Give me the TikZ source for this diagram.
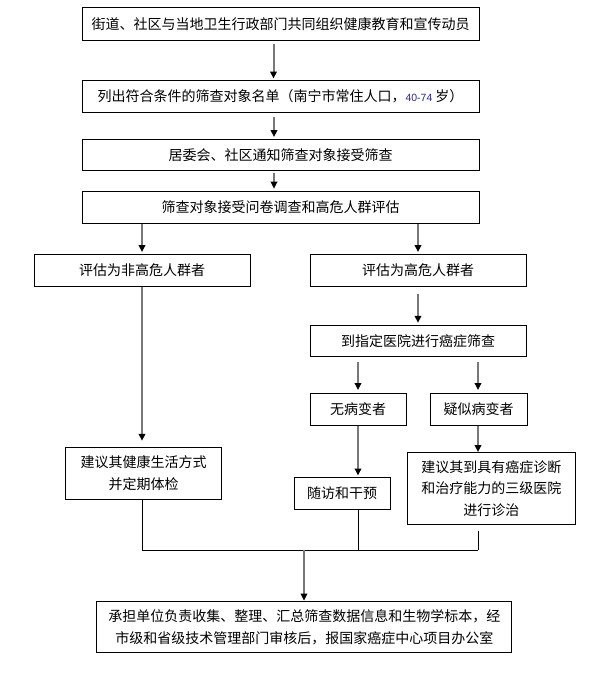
\documentclass[tikz,border=0pt]{standalone}
\usepackage{fontspec}
\usetikzlibrary{arrows.meta}
\newfontfamily\cjk{Noto Sans CJK SC}
\newfontfamily\lat{Liberation Sans}
\definecolor{lgray}{RGB}{120,120,120}
\definecolor{numblue}{RGB}{40,40,150}
\begin{document}
\begin{tikzpicture}[x=1pt,y=-1pt,
  box/.style={draw=black,line width=1pt,inner sep=0pt,align=center,font=\cjk\fontsize{14}{21.5}\selectfont},
  arr/.style={draw=lgray,line width=2pt,-{Triangle[width=6.5pt,length=7pt,color=black]}},
  plain/.style={draw=black,line width=1pt}]
\useasboundingbox[fill=white] (0,0) rectangle (599,682);

\node[box,minimum width=397pt,minimum height=32.7pt] (b1) at (280.5,23.7) {街道、社区与当地卫生行政部门共同组织健康教育和宣传动员};
\node[box,minimum width=397pt,minimum height=32.3pt] (b2) at (280.5,96.2) {列出符合条件的筛查对象名单（南宁市常住人口，{\lat\fontsize{10.5}{12}\selectfont\color{numblue}40-74} 岁）};
\node[box,minimum width=397pt,minimum height=31.7pt] (b3) at (280.5,154.9) {居委会、社区通知筛查对象接受筛查};
\node[box,minimum width=397pt,minimum height=31.6pt] (b4) at (280.5,207.5) {筛查对象接受问卷调查和高危人群评估};

\node[box,minimum width=216pt,minimum height=32.5pt] (L1) at (142,270.3) {评估为非高危人群者};
\node[box,minimum width=216pt,minimum height=32.5pt] (R1) at (418,270.3) {评估为高危人群者};
\node[box,minimum width=216pt,minimum height=31.4pt] (R2) at (418,341) {到指定医院进行癌症筛查};
\node[box,minimum width=96pt,minimum height=32pt] (N) at (358,409) {无病变者};
\node[box,minimum width=97pt,minimum height=32pt] (S) at (478.5,409) {疑似病变者};
\node[box,minimum width=156pt,minimum height=52pt] (L2) at (143.5,473.3) {建议其健康生活方式\\并定期体检};
\node[box,minimum width=96pt,minimum height=32pt] (N2) at (342,493.3) {随访和干预};
\node[box,minimum width=168.5pt,minimum height=72.3pt] (S2) at (491.25,488.2) {建议其到具有癌症诊断\\和治疗能力的三级医院\\进行诊治};
\node[box,minimum width=415.3pt,minimum height=51.3pt] (F) at (304.3,627.3) {承担单位负责收集、整理、汇总筛查数据信息和生物学标本，经\\市级和省级技术管理部门审核后，报国家癌症中心项目办公室};

\coordinate (m) at (304,550);
\coordinate (mL) at (142,550);
\coordinate (mN) at (358,550);
\coordinate (mR) at (478,550);

\draw[arr,shorten <=3pt,shorten >=1pt] ([xshift=-7pt]b1.south) -- ([xshift=-7pt]b2.north);
\draw[arr,shorten <=4.5pt,shorten >=1.5pt] ([xshift=-6.5pt]b2.south) -- ([xshift=-6.5pt]b3.north);
\draw[arr,shorten <=1.3pt,shorten >=2.5pt] ([xshift=-6.5pt]b3.south) -- ([xshift=-6.5pt]b4.north);
\draw[arr,shorten >=1.5pt] (L1.north |- b4.south) -- (L1.north);
\draw[arr,shorten >=1.5pt] (R1.north |- b4.south) -- (R1.north);
\draw[arr,shorten <=6.5pt,shorten >=2pt] (R1.south) -- (R2.north);
\draw[arr,shorten <=5pt,shorten >=2.5pt] (N.north |- R2.south) -- (N.north);
\draw[arr,shorten <=5pt,shorten >=2.5pt] (mR |- R2.south) -- (mR |- S.north);
\draw[arr,shorten >=6pt] (L1.south) -- (L1.south |- L2.north);
\draw[arr,shorten >=1.3pt] (N.south) -- (N.south |- N2.north);
\draw[arr,shorten >=-0.5pt] (mR |- S.south) -- (mR |- S2.north);

\draw[plain] (mL |- L2.south) -- (mL) -- (mR);
\draw[plain,shorten >=5.7pt] (mR) -- (mR |- S2.south);
\draw[plain] (mN |- N2.south) -- (mN);
\draw[arr,shorten >=0.5pt] (m) -- (m |- F.north);
\end{tikzpicture}
\end{document}
